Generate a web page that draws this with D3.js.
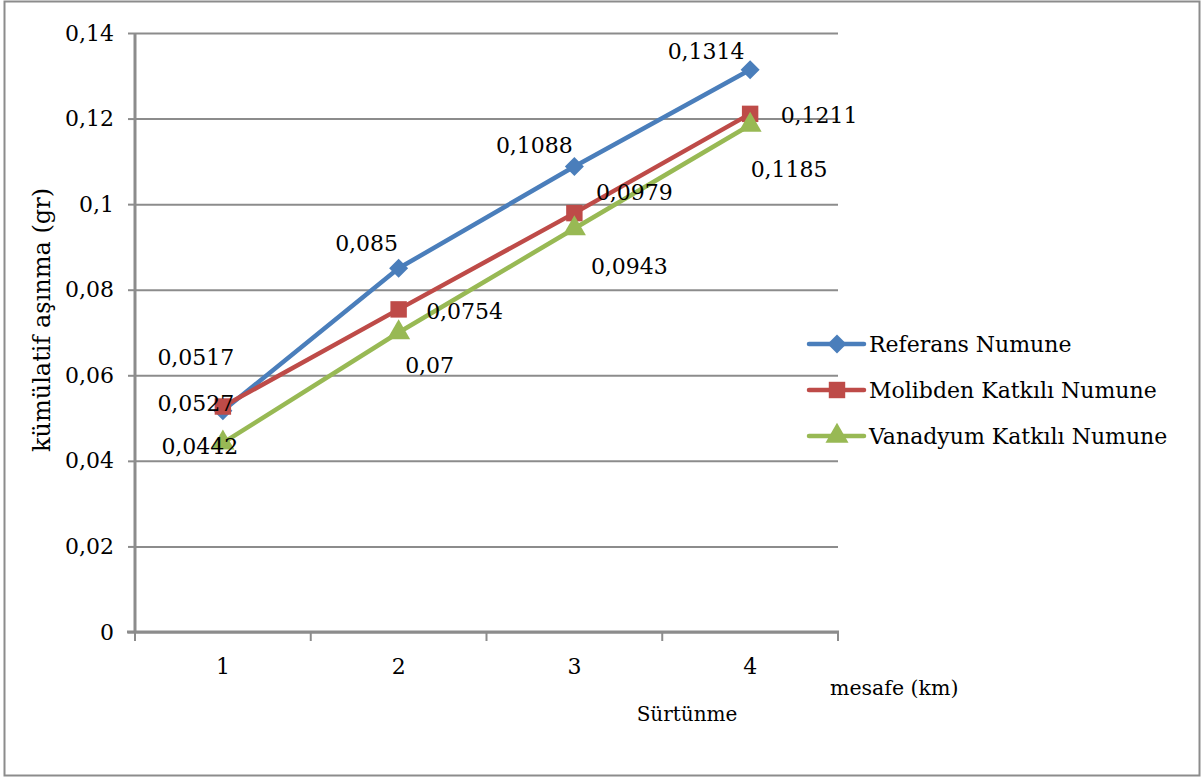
<!DOCTYPE html>
<html>
<head>
<meta charset="utf-8">
<script src="https://cdn.jsdelivr.net/npm/d3@7"></script>
<style>
  body { margin: 0; background: #fff; }
  text { font-family: "DejaVu Serif", serif; fill: #000; }
</style>
</head>
<body>
<script>
const width = 1203;
const height = 778;

const categories = ['1', '2', '3', '4'];
const seriesNames = ['Referans Numune', 'Molibden Katkılı Numune', 'Vanadyum Katkılı Numune'];
const referans = [0.0517, 0.085, 0.1088, 0.1314];
const molibden = [0.0527, 0.0754, 0.0979, 0.1211];
const vanadyum = [0.0442, 0.07, 0.0943, 0.1185];
const yTicks = [0, 0.02, 0.04, 0.06, 0.08, 0.1, 0.12, 0.14];

const colors = ['#4a7ebb', '#be4b48', '#98b954'];
const symbols = [d3.symbolDiamond2, d3.symbolSquare, d3.symbolTriangle];
const symSizes = [230, 270, 230];

// label offsets (px) from each point, like the moved labels in the original
const labelOffsets = [
    [[-27, -53], [-32, -25], [-40, -21], [-44, -18]],
    [[-27, -3], [66, 2], [60, -21], [69, 2]],
    [[-23, 4], [31, 33], [55, 38], [39, 45]]
];

const series = [referans, molibden, vanadyum].map((vals, i) => ({
    name: seriesNames[i],
    color: colors[i],
    symbol: symbols[i],
    size: symSizes[i],
    values: vals.map((v, j) => ({ cat: categories[j], v: v, j: j }))
}));

const plot = { left: 135, right: 838, top: 33, bottom: 632 };

const svg = d3.select('body').append('svg')
    .attr('width', width)
    .attr('height', height);

// outer frame
svg.append('rect')
    .attr('x', 4.5).attr('y', 1.5)
    .attr('width', 1195).attr('height', 774)
    .attr('fill', 'none')
    .attr('stroke', '#8c8c8c')
    .attr('stroke-width', 2);

const x = d3.scaleBand()
    .domain(categories)
    .range([plot.left, plot.right]);

const y = d3.scaleLinear()
    .domain([0, 0.14])
    .range([plot.bottom, plot.top]);

const fmt = d => String(d).replace('.', ',');

// gridlines + y axis
const yAxis = d3.axisLeft(y)
    .tickValues(yTicks)
    .tickSize(7)
    .tickPadding(14)
    .tickFormat(fmt);

const gy = svg.append('g')
    .attr('transform', 'translate(' + plot.left + ',0)')
    .call(yAxis);
gy.select('.domain').remove();
gy.selectAll('.tick line').attr('stroke', '#8c8c8c').attr('stroke-width', 2);
gy.selectAll('.tick text').style('font-size', '22px');

gy.selectAll('.tick')
    .append('line')
    .attr('x1', 0)
    .attr('x2', plot.right - plot.left)
    .attr('stroke', '#8c8c8c')
    .attr('stroke-width', 2);

// axis lines
svg.append('line')
    .attr('x1', plot.left).attr('x2', plot.left)
    .attr('y1', plot.top).attr('y2', plot.bottom)
    .attr('stroke', '#8c8c8c').attr('stroke-width', 3);

const xAxis = d3.axisBottom(x)
    .tickSize(0)
    .tickPadding(26);

const gx = svg.append('g')
    .attr('transform', 'translate(0,' + plot.bottom + ')')
    .call(xAxis);
gx.select('.domain').remove();
gx.selectAll('.tick text').style('font-size', '22px');

svg.append('line')
    .attr('x1', plot.left - 8).attr('x2', plot.right + 1)
    .attr('y1', plot.bottom).attr('y2', plot.bottom)
    .attr('stroke', '#8c8c8c').attr('stroke-width', 3);

// x ticks at band boundaries
const bounds = categories.map(c => x(c)).concat([x(categories[categories.length - 1]) + x.bandwidth()]);
svg.selectAll('.xtick')
    .data(bounds)
    .enter().append('line')
    .attr('x1', d => d).attr('x2', d => d)
    .attr('y1', plot.bottom).attr('y2', plot.bottom + 9)
    .attr('stroke', '#8c8c8c').attr('stroke-width', 2);

// lines
const line = d3.line()
    .x(d => x(d.cat) + x.bandwidth() / 2)
    .y(d => y(d.v));

const gs = svg.selectAll('.series')
    .data(series)
    .enter().append('g');

gs.append('path')
    .attr('d', d => line(d.values))
    .attr('fill', 'none')
    .attr('stroke', d => d.color)
    .attr('stroke-width', 4.5)
    .attr('stroke-linejoin', 'round');

gs.each(function (s) {
    d3.select(this).selectAll('.mark')
        .data(s.values)
        .enter().append('path')
        .attr('d', d3.symbol().type(s.symbol).size(s.size))
        .attr('transform', d => 'translate(' + (x(d.cat) + x.bandwidth() / 2) + ',' + y(d.v) + ')')
        .attr('fill', s.color);
});

// data labels
series.forEach((s, i) => {
    svg.selectAll('.lbl' + i)
        .data(s.values)
        .enter().append('text')
        .attr('x', d => x(d.cat) + x.bandwidth() / 2 + labelOffsets[i][d.j][0])
        .attr('y', d => y(d.v) + labelOffsets[i][d.j][1])
        .attr('text-anchor', 'middle')
        .attr('dominant-baseline', 'central')
        .style('font-size', '22px')
        .text(d => fmt(d.v));
});

// axis titles
svg.append('text')
    .attr('transform', 'translate(50,320) rotate(-90)')
    .attr('text-anchor', 'middle')
    .style('font-size', '24px')
    .text('kümülatif aşınma (gr)');

svg.append('text')
    .attr('x', 830).attr('y', 695)
    .style('font-size', '20.5px')
    .text('mesafe (km)');

svg.append('text')
    .attr('x', 687).attr('y', 721)
    .attr('text-anchor', 'middle')
    .style('font-size', '20px')
    .text('Sürtünme');

// legend
const legend = svg.append('g')
    .attr('transform', 'translate(809,344)');

const li = legend.selectAll('.li')
    .data(series)
    .enter().append('g')
    .attr('transform', (d, i) => 'translate(0,' + i * 46 + ')');

li.append('line')
    .attr('x1', 0).attr('x2', 55)
    .attr('stroke', d => d.color)
    .attr('stroke-width', 4.5)
    .attr('stroke-linecap', 'round');

li.append('path')
    .attr('d', d => d3.symbol().type(d.symbol).size(d.size)())
    .attr('transform', 'translate(28,0)')
    .attr('fill', d => d.color);

li.append('text')
    .attr('x', 60)
    .attr('dominant-baseline', 'central')
    .style('font-size', '22px')
    .text(d => d.name);
</script>
</body>
</html>
